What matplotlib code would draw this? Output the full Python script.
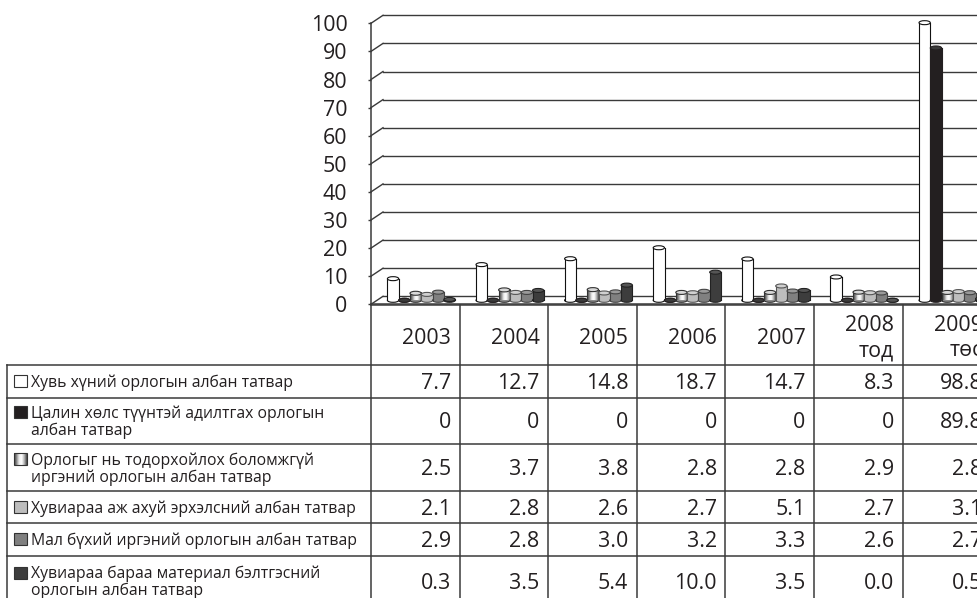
import matplotlib
matplotlib.use("Agg")
import matplotlib.pyplot as plt
from matplotlib.patches import Ellipse, Rectangle
from matplotlib.colors import LinearSegmentedColormap
import numpy as np

plt.rcParams['font.family'] = ['Open Sans', 'DejaVu Sans']

# ---- data -------------------------------------------------------------
years = ["2003", "2004", "2005", "2006", "2007", "2008\nтод", "2009\nтөс"]

series_names = [
    "Хувь хүний орлогын албан татвар",
    "Цалин хөлс түүнтэй адилтгах орлогын\nалбан татвар",
    "Орлогыг нь тодорхойлох боломжгүй\nиргэний орлогын албан татвар",
    "Хувиараа аж ахуй эрхэлсний албан татвар",
    "Мал бүхий иргэний орлогын албан татвар",
    "Хувиараа бараа материал бэлтгэсний\nорлогын албан татвар",
]

personal_income = ["7.7", "12.7", "14.8", "18.7", "14.7", "8.3", "98.8"]
wage_income = ["0", "0", "0", "0", "0", "0", "89.8"]
undetermined_income = ["2.5", "3.7", "3.8", "2.8", "2.8", "2.9", "2.8"]
sole_business = ["2.1", "2.8", "2.6", "2.7", "5.1", "2.7", "3.1"]
livestock_owners = ["2.9", "2.8", "3.0", "3.2", "3.3", "2.6", "2.7"]
raw_material_traders = ["0.3", "3.5", "5.4", "10.0", "3.5", "0.0", "0.5"]

series_labels = [personal_income, wage_income, undetermined_income,
                 sole_business, livestock_owners, raw_material_traders]

y_ticks = list(range(0, 101, 10))

# ---- styling ----------------------------------------------------------
W, H = 977, 598
INK = "#231f20"
LINE = "#3a3a3a"
fills = ["#ffffff", "#231f20", None, "#bdbdbd", "#808080", "#3d3d3d"]
edges = ["#111111", "#231f20", "#333333", "#555555", "#444444", "#222222"]
tops = ["#ffffff", "#3a3a3a", "#d8d8d8", "#d0d0d0", "#9a9a9a", "#555555"]
metal = LinearSegmentedColormap.from_list(
    "metal", ["#3a3a3a", "#8c8c8c", "#eeeeee", "#ffffff", "#b4b4b4", "#4a4a4a"])
grad = np.linspace(0, 1, 64)[None, :]

fig = plt.figure(figsize=(W / 100, H / 100), dpi=100)

# layout in pixels
CW = 88.6            # column width
AX_LEFT = 371
FRONT_ZERO = 304.3
PPU = 2.81           # pixels per value unit
DX, DY = 12 / CW, 8 / PPU              # back wall depth offset
BX, BY = 6 / CW, 4 / PPU               # bars sit at mid depth
BW = 11.3 / CW                         # bar width
EH = 4 / PPU                           # ellipse height of cylinder caps

NUM_FS = 15.4
LEG_FS = 11.3

# ---- chart ------------------------------------------------------------
ax = fig.add_axes([AX_LEFT / W, (H - FRONT_ZERO) / H, 7 * CW / W, 100 * PPU / H])
ax.set_autoscale_on(False)
ax.set_xlim(0, 7)
ax.set_ylim(0, 100)
ax.patch.set_visible(False)
for s in ["top", "right"]:
    ax.spines[s].set_visible(False)
ax.spines["left"].set_color(LINE)
ax.spines["bottom"].set_color(LINE)
ax.spines["left"].set_linewidth(1.1)
ax.spines["bottom"].set_linewidth(1.1)
ax.set_xticks([])
ax.set_yticks(y_ticks)
ax.set_yticklabels([str(t) for t in y_ticks])
ax.tick_params(axis="y", length=2, width=1, color=LINE, pad=15,
               labelsize=NUM_FS, labelcolor=INK)

# back wall gridlines with their depth connectors
for v in y_ticks:
    ax.plot([DX, 7.3], [v + DY, v + DY], color=LINE, lw=1.0, clip_on=False, zorder=1)
    ax.plot([0, DX], [v, v + DY], color=LINE, lw=1.0, clip_on=False, zorder=1)

# cylinders
for j, labels in enumerate(series_labels):
    vals = [float(s) for s in labels]
    xs = [i + 0.5 + (j - 2.5) * BW + BX for i in range(len(years))]
    z = 3 + j * 0.01
    for x, v in zip(xs, vals):
        ax.add_patch(Ellipse((x, BY), BW, EH, facecolor=fills[j] or "#8a8a8a",
                             edgecolor=edges[j], lw=0.8, zorder=z, clip_on=False))
        if fills[j] is None:
            ax.imshow(grad, cmap=metal, aspect="auto", interpolation="bilinear",
                      extent=[x - BW / 2, x + BW / 2, BY, BY + v], zorder=z + 0.001,
                      clip_on=False)
        else:
            ax.bar(x, v, bottom=BY, width=BW, color=fills[j], lw=0,
                   zorder=z + 0.001, clip_on=False)
        ax.plot([x - BW / 2, x - BW / 2], [BY, BY + v], color=edges[j], lw=0.8,
                zorder=z + 0.002, clip_on=False)
        ax.plot([x + BW / 2, x + BW / 2], [BY, BY + v], color=edges[j], lw=0.8,
                zorder=z + 0.002, clip_on=False)
        ax.add_patch(Ellipse((x, BY + v), BW, EH, facecolor=tops[j],
                             edgecolor=edges[j], lw=0.8, zorder=z + 0.003,
                             clip_on=False))
ax.set_xlim(0, 7)
ax.set_ylim(0, 100)

# ---- data table -------------------------------------------------------
tax = fig.add_axes([0, 0, 1, 1], zorder=-1)
tax.set_xlim(0, W)
tax.set_ylim(H, 0)
tax.axis("off")

ROW_EDGES = [305, 365, 397.5, 444, 491, 523, 555.5, 607]
LEG_LEFT = 7
col_x = [AX_LEFT + k * CW for k in range(len(years) + 1)]

tax.plot([AX_LEFT, W + 20], [ROW_EDGES[0]] * 2, color=LINE, lw=1.1)
for y in ROW_EDGES[1:]:
    tax.plot([LEG_LEFT, W + 20], [y, y], color=LINE, lw=1.1)
tax.plot([LEG_LEFT, LEG_LEFT], [ROW_EDGES[1], ROW_EDGES[-1]], color=LINE, lw=1.1)
for cx in col_x:
    tax.plot([cx, cx], [ROW_EDGES[0], ROW_EDGES[-1]], color=LINE, lw=1.1)

NUM_CAP = 0.714 * NUM_FS * 100 / 72
LEG_CAP = 0.714 * LEG_FS * 100 / 72
PAD = 8.6

# header
hc = (ROW_EDGES[0] + ROW_EDGES[1]) / 2 + 1
for i, lab in enumerate(years):
    lines = lab.split("\n")
    n = len(lines)
    for k, line in enumerate(lines):
        yc = hc + (k - (n - 1) / 2) * 25
        tax.text(col_x[i + 1] - PAD, yc + NUM_CAP / 2, line, ha="right",
                 va="baseline", fontsize=NUM_FS, color=INK)

# rows
for r, (name, labels) in enumerate(zip(series_names, series_labels)):
    top, bot = ROW_EDGES[r + 1], ROW_EDGES[r + 2]
    rc = (top + bot) / 2
    for i, s in enumerate(labels):
        tax.text(col_x[i + 1] - PAD, rc + NUM_CAP / 2, s, ha="right",
                 va="baseline", fontsize=NUM_FS, color=INK)
    lines = name.split("\n")
    n = len(lines)
    first = None
    for k, line in enumerate(lines):
        yc = rc + (k - (n - 1) / 2) * 17
        if first is None:
            first = yc
        tax.text(31, yc + LEG_CAP / 2, line, ha="left", va="baseline",
                 fontsize=LEG_FS, color=INK)
    ix0, iw, ih = 13.5, 13, 12
    if fills[r] is None:
        tax.imshow(grad, cmap=metal, aspect="auto", interpolation="bilinear",
                   extent=[ix0, ix0 + iw, first + ih / 2, first - ih / 2], zorder=2)
        tax.add_patch(Rectangle((ix0, first - ih / 2), iw, ih, fill=False,
                                edgecolor=edges[r], lw=0.8, zorder=3))
    else:
        tax.add_patch(Rectangle((ix0, first - ih / 2), iw, ih, facecolor=fills[r],
                                edgecolor="#333333", lw=0.8, zorder=3))
tax.set_xlim(0, W)
tax.set_ylim(H, 0)

fig.savefig("out.png", dpi=100)
